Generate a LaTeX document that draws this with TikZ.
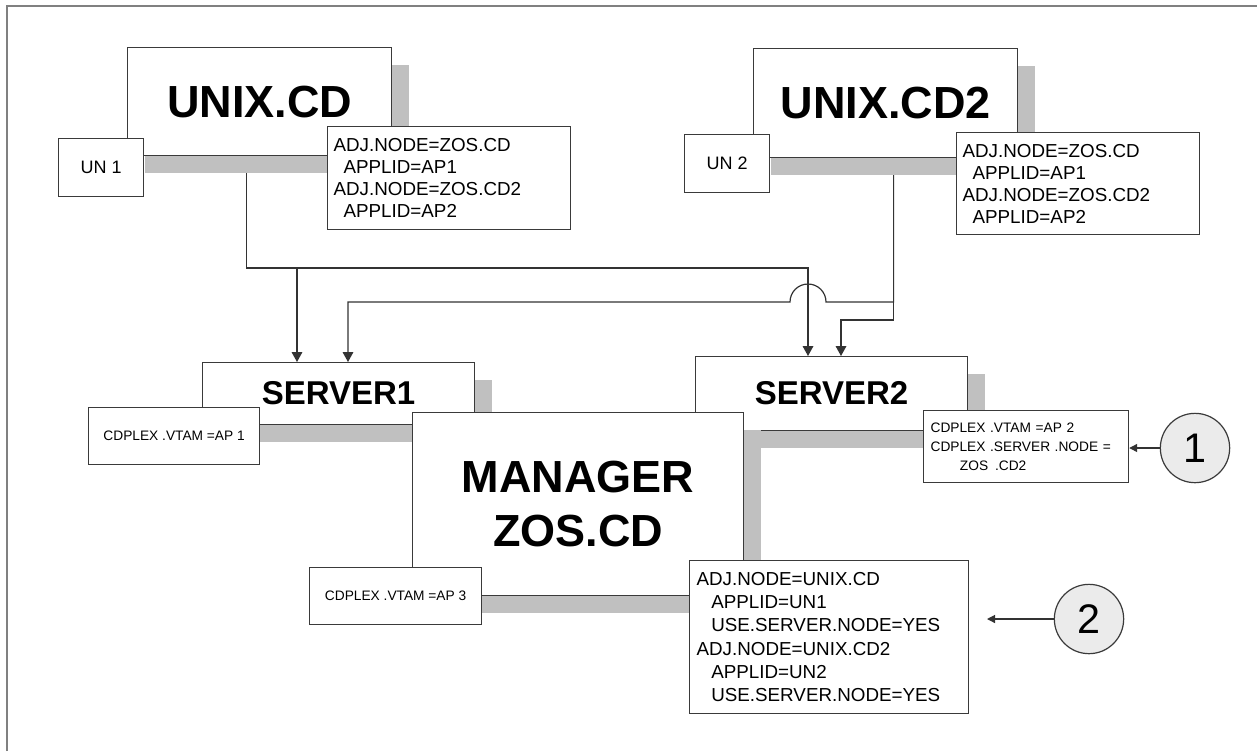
\documentclass[tikz,border=0pt]{standalone}
\usepackage{fontspec}
\setmainfont{Liberation Sans}
\usetikzlibrary{arrows.meta,shadows}
\definecolor{boxc}{HTML}{3A3A3A}
\definecolor{shadc}{HTML}{C0C0C0}
\definecolor{framec}{HTML}{808080}
\definecolor{linec}{HTML}{333333}
\definecolor{circc}{HTML}{EBEBEB}
\begin{document}
\begin{tikzpicture}[x=0.75pt,y=-0.75pt,
  box/.style={draw=boxc, fill=white, line width=0.9pt, inner sep=0pt, anchor=north west},
  shad/.style={general shadow={fill=shadc, shadow xshift=12.75pt, shadow yshift=-12.75pt}},
  bigt/.style={font=\fontsize{33.75}{40.5}\selectfont\bfseries, align=center},
  servt/.style={font=\fontsize{24.75}{28}\selectfont\bfseries},
  adjt/.style={font=\fontsize{14.1}{16.5}\selectfont, align=left, inner xsep=4.5pt},
  smallt/.style={font=\fontsize{10.3}{14}\selectfont, align=left},
  unt/.style={font=\fontsize{13.5}{15}\selectfont},
  conn/.style={draw=linec, line width=0.9pt},
  arr/.style={-{Triangle[length=7.5pt,width=8pt]}},
  carr/.style={-{Triangle[length=6pt,width=6pt]}},
  numc/.style={circle, draw=boxc, fill=circc, line width=0.9pt, minimum size=52pt, inner sep=0pt, font=\fontsize{31}{31}\selectfont}
]
\useasboundingbox (0,0) rectangle (1257,751);
\fill[white] (0,0) rectangle (1257,751);
\draw[framec, line width=1.5pt] (7,751) -- (7,6) -- (1257,6);

% top left group
\node[box, shad, bigt, minimum width=198pt, minimum height=81pt] (unixcd) at (127,47) {UNIX.CD};
\node[box, unt, minimum width=63.75pt, minimum height=43.5pt] (un1) at (58,138) {UN 1};
\node[box, adjt, text width=173.25pt, minimum height=77.25pt] (adj1) at (327,126)
  {ADJ.NODE=ZOS.CD\\\hspace*{7.5pt}APPLID=AP1\\ADJ.NODE=ZOS.CD2\\\hspace*{7.5pt}APPLID=AP2};

% top right group
\node[box, shad, bigt, minimum width=198pt, minimum height=81.75pt] (unixcd2) at (753,48) {UNIX.CD2};
\node[box, unt, minimum width=63.75pt, minimum height=43.5pt] (un2) at (684,134) {UN 2};
\node[box, adjt, text width=173.25pt, minimum height=76.5pt] (adj2) at (956,132)
  {ADJ.NODE=ZOS.CD\\\hspace*{7.5pt}APPLID=AP1\\ADJ.NODE=ZOS.CD2\\\hspace*{7.5pt}APPLID=AP2};

% servers
\node[box, shad, servt, minimum width=204pt, minimum height=46.5pt] (server1) at (202,362) {SERVER1};
\node[box, smallt, minimum width=128.25pt, minimum height=42.75pt, align=center] (cdp1) at (88,407) {CDPLEX .VTAM =AP 1};
\node[box, shad, servt, minimum width=204pt, minimum height=55.5pt] (server2) at (695,356) {SERVER2};

% manager
\node[box, shad, bigt, minimum width=248.25pt, minimum height=137.25pt] (manager) at (412,412) {MANAGER\\ZOS.CD};
\node[box, smallt, inner xsep=5.25pt, text width=143.25pt, minimum height=54pt] (cdp2) at (923,410)
  {CDPLEX .VTAM =AP 2\\CDPLEX .SERVER .NODE =\\\hspace*{22pt}ZOS \,.CD2};
\node[box, smallt, minimum width=129pt, minimum height=42.75pt, align=center] (cdp3) at (309,567) {CDPLEX .VTAM =AP 3};
\node[box, font=\fontsize{14.1}{17.5}\selectfont, align=left, inner xsep=5.25pt, text width=198.75pt, minimum height=114.75pt] (adj3) at (689,560)
  {ADJ.NODE=UNIX.CD\\\hspace*{11pt}APPLID=UN1\\\hspace*{11pt}USE.SERVER.NODE=YES\\ADJ.NODE=UNIX.CD2\\\hspace*{11pt}APPLID=UN2\\\hspace*{11pt}USE.SERVER.NODE=YES};

% numbered circles
\node[numc] (c1) at (1195,448) {1};
\node[numc] (c2) at (1089,619) {2};
\coordinate (p2) at (987,619);
\draw[conn, carr] (c1.west) -- (cdp2.east |- c1.west);
\draw[conn, carr] (c2.west) -- (p2);

% connectors
\coordinate (a0) at ([xshift=-9.75pt,yshift=-12.75pt]unixcd.south);
\coordinate (ja) at (a0 |- 0,268);
\coordinate (jab) at (297,268);
\draw[conn, arr] (a0) -- (ja) -| (808,0 |- server2.north);
\draw[conn, arr] (jab) -- (jab |- server1.north);

\coordinate (b0) at ([xshift=6pt,yshift=-12.75pt]unixcd2.south);
\coordinate (jb) at (b0 |- 0,302);
\draw[conn, arr] (b0) -- (jb) -- (826,302) arc[start angle=0,end angle=180,radius=13.5pt] -- (348,302) -- (348,0 |- server1.north);
\draw[conn, arr] (jb) -- ++(0,18) -| (841,0 |- server2.north);
\end{tikzpicture}
\end{document}
